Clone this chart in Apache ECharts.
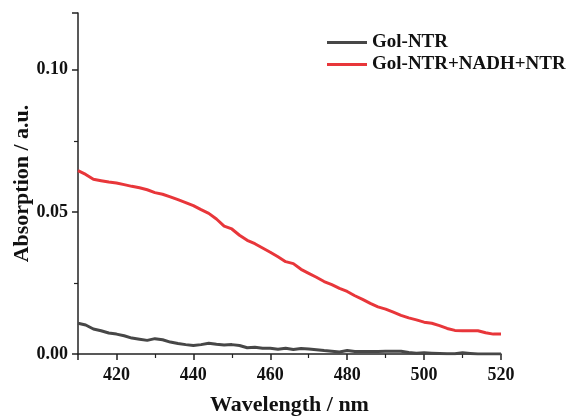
<!DOCTYPE html>
<html>
<head>
<meta charset="utf-8">
<script src="https://cdn.jsdelivr.net/npm/echarts@6/dist/echarts.min.js"></script>
<style>
  html, body { margin: 0; padding: 0; background: #fff; }
  #chart { width: 570px; height: 416px; }
</style>
</head>
<body>
<div id="chart"></div>
<script>
// wavelength (nm), every 2 nm
const wavelengths = [
  410, 412, 414, 416, 418, 420, 422, 424, 426, 428, 430, 432, 434, 436, 438,
  440, 442, 444, 446, 448, 450, 452, 454, 456, 458, 460, 462, 464, 466, 468,
  470, 472, 474, 476, 478, 480, 482, 484, 486, 488, 490, 492, 494, 496, 498,
  500, 502, 504, 506, 508, 510, 512, 514, 516, 518, 520
];
const golNtr = [
  0.0108, 0.0102, 0.0088, 0.0082, 0.0074, 0.0070, 0.0064, 0.0056, 0.0052, 0.0048,
  0.0054, 0.0050, 0.0042, 0.0037, 0.0033, 0.0030, 0.0033, 0.0038, 0.0034, 0.0032,
  0.0033, 0.0030, 0.0022, 0.0024, 0.0020, 0.0020, 0.0017, 0.0020, 0.0016, 0.0019,
  0.0018, 0.0015, 0.0012, 0.0010, 0.0007, 0.0012, 0.0009, 0.0009, 0.0009, 0.0009,
  0.0010, 0.0010, 0.0010, 0.0005, 0.0003, 0.0004, 0.0003, 0.0002, 0.0001, 0.0001,
  0.0004, 0.0002, 0.0000, 0.0000, 0.0000, 0.0000
];
const golNtrNadh = [
  0.0645, 0.0632, 0.0615, 0.0610, 0.0605, 0.0602, 0.0596, 0.0590, 0.0585, 0.0578,
  0.0568, 0.0562, 0.0553, 0.0543, 0.0533, 0.0522, 0.0508, 0.0495, 0.0475, 0.0450,
  0.0440, 0.0418, 0.0400, 0.0388, 0.0373, 0.0358, 0.0342, 0.0325, 0.0318, 0.0298,
  0.0284, 0.0270, 0.0255, 0.0244, 0.0231, 0.0220, 0.0205, 0.0192, 0.0178, 0.0166,
  0.0158, 0.0147, 0.0136, 0.0127, 0.0120, 0.0112, 0.0108, 0.0100, 0.0090, 0.0083,
  0.0082, 0.0082, 0.0082, 0.0075, 0.0070, 0.0070
];
const seriesNames = ["Gol-NTR", "Gol-NTR+NADH+NTR"];
const yLabels = [0, 0.05, 0.1];

const font = "'Liberation Serif', 'Times New Roman', serif";
const toPairs = (ys) => wavelengths.map((x, i) => [x, ys[i]]);

const chart = echarts.init(document.getElementById("chart"));
chart.setOption({
  animation: false,
  grid: { left: 78, right: 69, top: 13, bottom: 62, outerBoundsMode: "none" },
  legend: {
    orient: "vertical",
    left: 322,
    top: 28,
    icon: "rect",
    itemWidth: 40,
    itemHeight: 3,
    itemGap: 3,
    data: seriesNames,
    textStyle: { fontFamily: font, fontWeight: "bold", fontSize: 19, color: "#111" },
  },
  xAxis: {
    type: "value",
    min: 410,
    max: 520,
    splitNumber: 5,
    name: "Wavelength / nm",
    nameLocation: "middle",
    nameGap: 40,
    nameTextStyle: { fontFamily: font, fontWeight: "bold", fontSize: 22, color: "#111" },
    axisLine: { lineStyle: { color: "#222", width: 1.5 } },
    axisTick: { inside: false, length: 6, lineStyle: { color: "#222", width: 1.5 } },
    minorTick: { show: true, splitNumber: 2, length: 4, lineStyle: { color: "#222", width: 1.2 } },
    splitLine: { show: false },
    axisLabel: {
      margin: 12,
      fontFamily: font, fontWeight: "bold", fontSize: 18, color: "#111",
      formatter: (v) => (v % 20 === 0 ? String(v) : ""),
    },
  },
  yAxis: {
    type: "value",
    min: 0,
    max: 0.12,
    interval: 0.05,
    name: "Absorption / a.u.",
    nameLocation: "middle",
    nameGap: 45,
    nameMoveOverlap: false,
    nameTextStyle: { fontFamily: font, fontWeight: "bold", fontSize: 22, color: "#111" },
    axisLine: { show: true, lineStyle: { color: "#222", width: 1.5 } },
    axisTick: { show: true, inside: false, length: 6, lineStyle: { color: "#222", width: 1.5 } },
    minorTick: { show: true, splitNumber: 2, length: 4, lineStyle: { color: "#222", width: 1.2 } },
    splitLine: { show: false },
    axisLabel: {
      margin: 10,
      fontFamily: font, fontWeight: "bold", fontSize: 18, color: "#111",
      formatter: (v) => {
        const hit = yLabels.find((t) => Math.abs(t - v) < 1e-9);
        return hit === undefined ? "" : hit.toFixed(2);
      },
    },
  },
  series: [
    {
      name: seriesNames[0],
      type: "line",
      symbol: "none",
      data: toPairs(golNtr),
      lineStyle: { color: "#474747", width: 3 },
      itemStyle: { color: "#474747" },
    },
    {
      name: seriesNames[1],
      type: "line",
      symbol: "none",
      data: toPairs(golNtrNadh),
      lineStyle: { color: "#e8363a", width: 3 },
      itemStyle: { color: "#e8363a" },
    },
  ],
});
</script>
</body>
</html>
